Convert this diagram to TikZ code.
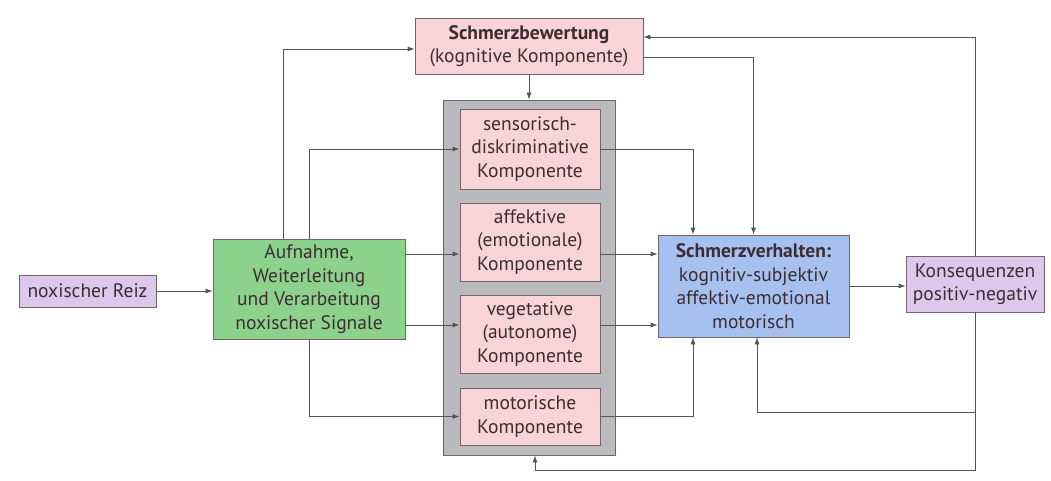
\documentclass[tikz,border=0pt]{standalone}
\usepackage{fontspec}
\setmainfont{PT Sans}
\usetikzlibrary{arrows.meta,calc}
\definecolor{pinkF}{RGB}{248,212,216}
\definecolor{greenF}{RGB}{140,210,140}
\definecolor{blueF}{RGB}{166,192,240}
\definecolor{purpF}{RGB}{221,200,236}
\definecolor{grayF}{RGB}{186,186,190}
\definecolor{txtC}{RGB}{60,45,50}
\definecolor{edgeC}{RGB}{115,100,102}
\definecolor{lineC}{RGB}{85,85,85}
\begin{document}
\begin{tikzpicture}[x=1pt,y=-1pt,
  box/.style={draw=edgeC, line width=0.8pt, align=center, inner sep=0pt,
    text=txtC, font=\fontsize{19.5}{23.5}\selectfont},
  pinkbox/.style={box, fill=pinkF},
  arr/.style={draw=lineC, line width=0.8pt, -{Latex[length=7pt,width=5pt]}},
  ln/.style={draw=lineC, line width=0.8pt}]
\useasboundingbox (0,0) rectangle (1051,481);
\fill[white] (0,0) rectangle (1051,481);

\node[box, fill=grayF, minimum width=172, minimum height=355] (gray) at (529,277.5) {};
\node[pinkbox, minimum width=228, minimum height=56] (bew) at (529,46)
  {\textbf{Schmerzbewertung}\\(kognitive Komponente)};
\node[pinkbox, minimum width=140, minimum height=80] (sens) at (530,149)
  {sensorisch-\\diskriminative\\Komponente};
\node[pinkbox, minimum width=140, minimum height=78] (aff) at (530,242)
  {affektive\\(emotionale)\\Komponente};
\node[pinkbox, minimum width=140, minimum height=78] (veg) at (530,334)
  {vegetative\\(autonome)\\Komponente};
\node[pinkbox, minimum width=140, minimum height=57] (mot) at (530,416.5)
  {motorische\\Komponente};
\node[box, fill=greenF, minimum width=192, minimum height=100] (green) at (309,289)
  {Aufnahme,\\Weiterleitung\\und Verarbeitung\\noxischer Signale};
\node[box, fill=purpF, minimum width=137, minimum height=32] (nox) at (87.5,291)
  {noxischer Reiz};
\node[box, fill=blueF, minimum width=191, minimum height=102] (verh) at (753.5,286)
  {\textbf{Schmerzverhalten:}\\kognitiv-subjektiv\\affektiv-emotional\\motorisch};

\coordinate (yA) at (0,254);
\coordinate (yV) at (0,325);
\coordinate (yB) at (0,49);
\coordinate (xL) at (283,0);
\coordinate (xS) at (693,0);
\coordinate (yR) at (0,57);
\coordinate (yT) at (0,37);
\coordinate (yBot) at (0,470);
\coordinate (xG) at (535,0);
\coordinate (yM) at (0,412);
\coordinate (xM) at (757,0);

% feedback line behind the Konsequenzen box
\draw[ln] (975,262) -- (975,460);
\node[box, fill=purpF, minimum width=138, minimum height=56] (kons) at (975,284)
  {Konsequenzen\\positiv-negativ};

\draw[arr] (nox.east) -- (green.west |- nox.east);
\draw[arr] (green.north -| xL) |- (bew.west |- yB);
\draw[arr] (green.north) |- (sens.west);
\draw[arr] (green.south) |- (mot.west);
\draw[arr] (green.east |- yA) -- (aff.west |- yA);
\draw[arr] (green.east |- yV) -- (veg.west |- yV);
\draw[arr] (bew.south) -- (gray.north);
\draw[arr] (sens.east) -| (verh.north -| xS);
\draw[arr] (aff.east |- yA) -- (verh.west |- yA);
\draw[arr] (veg.east |- yV) -- (verh.west |- yV);
\draw[arr] (mot.east) -| (verh.south -| xS);
\draw[arr] (bew.east |- yR) -| (verh.north);
\draw[arr] (verh.east) -- (kons.west |- verh.east);
\draw[arr] (kons.north) |- (bew.east |- yT);
\draw[arr] (kons.south) |- (xG |- yBot) -- (gray.south -| xG);
\draw[arr] (kons.south |- yM) -| (verh.south -| xM);
\end{tikzpicture}
\end{document}
